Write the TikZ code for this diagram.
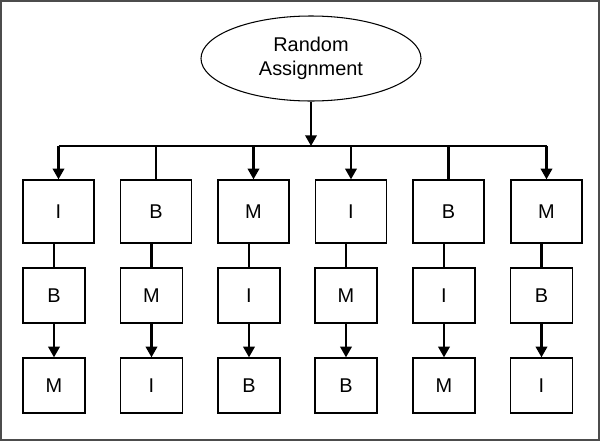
\documentclass[tikz,border=0pt]{standalone}
\usepackage{fontspec}
\setmainfont{Liberation Sans}
\usetikzlibrary{arrows.meta,shapes.geometric}

\begin{document}
\begin{tikzpicture}[x=0.03cm,y=-0.03cm,
	font=\fontsize{17}{21}\selectfont,
	haut/.style={draw, line width=1.1pt, minimum width=2.13cm, minimum height=1.89cm, inner sep=0pt},
	bas/.style={draw, line width=1.1pt, minimum width=1.86cm, minimum height=1.65cm, inner sep=0pt},
	lien/.style={line width=2pt},
	fleche/.style={lien, -{Triangle[length=3.2mm,width=3.4mm]}}]
	%\draw[help lines] (0,0) grid[step=20] (600,441);
	\useasboundingbox (0,0) rectangle (600,441);
	\draw[line width=1.2pt, black!70] (1,1) rectangle (599,440);
	\node[ellipse, draw, line width=.9pt, minimum width=6.6cm, minimum height=2.55cm, inner sep=0pt, align=center] (R) at (311,58.5) {Random\\Assignment};
	\coordinate (bus) at (311,146);
	\path
		(58.5,211.5) node[haut] (t1) {I}
		(156,211.5)  node[haut] (t2) {B}
		(253.5,211.5) node[haut] (t3) {M}
		(351,211.5)  node[haut] (t4) {I}
		(448.5,211.5) node[haut] (t5) {B}
		(546.5,211.5) node[haut] (t6) {M}
		(54,295.5)   node[bas] (m1) {B}
		(151.5,295.5) node[bas] (m2) {M}
		(249,295.5)  node[bas] (m3) {I}
		(346,295.5)  node[bas] (m4) {M}
		(444,295.5)  node[bas] (m5) {I}
		(541.5,295.5) node[bas] (m6) {B}
		(54,385.5)   node[bas] (b1) {M}
		(151.5,385.5) node[bas] (b2) {I}
		(249,385.5)  node[bas] (b3) {B}
		(346,385.5)  node[bas] (b4) {B}
		(444,385.5)  node[bas] (b5) {M}
		(541.5,385.5) node[bas] (b6) {I}
	;
	\draw[fleche] (R) -- (bus);
	\draw[lien] (t1.north |- bus) -- (t6.north |- bus);
	\draw[fleche] (t1.north |- bus) -- (t1.north);
	\draw[lien] (t2.north |- bus) -- (t2.north);
	\draw[fleche] (t3.north |- bus) -- (t3.north);
	\draw[fleche] (t4.north |- bus) -- (t4.north);
	\draw[lien] (t5.north |- bus) -- (t5.north);
	\draw[fleche] (t6.north |- bus) -- (t6.north);
	\draw[lien] (m1.north |- t1.south) -- (m1.north);
	\draw[lien] (m2.north |- t2.south) -- (m2.north);
	\draw[lien] (m3.north |- t3.south) -- (m3.north);
	\draw[lien] (m4.north |- t4.south) -- (m4.north);
	\draw[lien] (m5.north |- t5.south) -- (m5.north);
	\draw[lien] (m6.north |- t6.south) -- (m6.north);
	\draw[fleche] (m1) -- (b1);
	\draw[fleche] (m2) -- (b2);
	\draw[fleche] (m3) -- (b3);
	\draw[fleche] (m4) -- (b4);
	\draw[fleche] (m5) -- (b5);
	\draw[fleche] (m6) -- (b6);
\end{tikzpicture}
\end{document}
